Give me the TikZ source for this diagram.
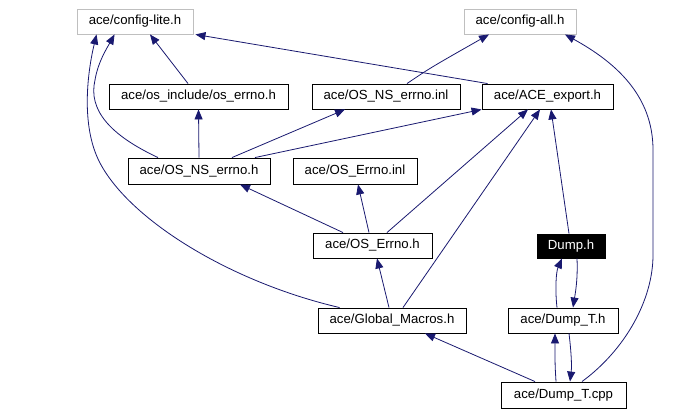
\documentclass[tikz,border=0pt]{standalone}
\usepackage{fontspec}
\setmainfont{Liberation Sans}
\usetikzlibrary{arrows.meta,calc}
\definecolor{edgec}{HTML}{191970}
\definecolor{grayb}{HTML}{BFBFBF}
\tikzset{
  box/.style={draw=black, line width=0.9pt, fill=white, inner sep=0pt, minimum height=25pt,
    font=\fontsize{13.2}{15}\selectfont, text=black},
  graybox/.style={box, draw=grayb},
  blackbox/.style={box, fill=black, text=white},
  dep/.style={draw=edgec, line width=0.8pt, -{Triangle[length=10pt,width=8pt]}},
}
\begin{document}
\begin{tikzpicture}[x=1pt,y=-1pt]
\useasboundingbox[fill=white] (0,0) rectangle (675,415);
% nodes
\node[graybox, minimum width=116pt] (cl) at (135,21.5) {ace/config-lite.h};
\node[graybox, minimum width=112pt] (ca) at (520,21.5) {ace/config-all.h};
\node[box, minimum width=179pt] (oe) at (198.5,96.5) {ace/os\_include/os\_errno.h};
\node[box, minimum width=148pt] (nsinl) at (386,96.5) {ace/OS\_NS\_errno.inl};
\node[box, minimum width=131pt] (ae) at (547.5,96.5) {ace/ACE\_export.h};
\node[box, minimum width=142pt, minimum height=26pt] (nsh) at (199,171) {ace/OS\_NS\_errno.h};
\node[box, minimum width=124pt, minimum height=26pt] (einl) at (355,171) {ace/OS\_Errno.inl};
\node[box, minimum width=119pt] (eh) at (372.5,245.5) {ace/OS\_Errno.h};
\node[blackbox, minimum width=68pt, minimum height=24pt] (dump) at (571,246) {Dump.h};
\node[box, minimum width=148pt] (gm) at (392,320.5) {ace/Global\_Macros.h};
\node[box, minimum width=110pt] (dth) at (563,320.5) {ace/Dump\_T.h};
\node[box, minimum width=125pt, minimum height=26pt] (dtc) at (563.5,395) {ace/Dump\_T.cpp};
% edges
\draw[dep] ([xshift=-10.5pt]oe.north) -- ([xshift=15pt]cl.south);
\draw[dep] ([xshift=6pt]ae.north west) -- ([xshift=2pt]cl.south east);
\draw[dep] ([xshift=21pt]nsinl.north) .. controls (430,68) .. ([xshift=-31pt]ca.south);
\draw[dep] ([xshift=18.5pt]dtc.north) .. controls (625,350) and (653,300) .. (653,255)
   -- (653,150) .. controls (653,95) and (615,62) .. ([xshift=45pt]ca.south);
\draw[dep] ([xshift=-41pt]nsh.north) .. controls (110,135) and (88,110) .. (95,80)
   .. controls (98,62) and (107,48) .. ([xshift=38pt]cl.south west);
\draw[dep] ([xshift=22pt]gm.north west) .. controls (230,282) and (130,220) .. (100,163)
   .. controls (80,125) and (88,70) .. ([xshift=20pt]cl.south west);
\draw[dep] (nsh.north) -- (oe.south);
\draw[dep] ([xshift=33pt]nsh.north) -- ([xshift=-41pt]nsinl.south);
\draw[dep] ([xshift=56pt]nsh.north) -- (ae.south west);
\draw[dep] ([xshift=-29.5pt]eh.north) -- ([xshift=41pt]nsh.south);
\draw[dep] ([xshift=-3.5pt]eh.north) -- ([xshift=3pt]einl.south);
\draw[dep] ([xshift=14.5pt]eh.north) -- ([xshift=-19.5pt]ae.south);
\draw[dep] ([xshift=11pt]gm.north) -- ([xshift=-7.5pt]ae.south);
\draw[dep] ([xshift=-2pt]dump.north) -- ([xshift=3.5pt]ae.south);
\draw[dep] ([xshift=-3pt]gm.north) -- ([xshift=4.5pt]eh.south);
\draw[dep] ([xshift=-6pt]dth.north) .. controls (555,290) and (556,272) .. ([xshift=-9pt]dump.south);
\draw[dep] ([xshift=6pt]dump.south) .. controls (578,280) and (575,295) .. ([xshift=10pt]dth.north);
\draw[dep] ([xshift=-7.5pt]dtc.north) .. controls (555,365) .. ([xshift=-8pt]dth.south);
\draw[dep] ([xshift=6pt]dth.south) .. controls (571,350) and (572,365) .. ([xshift=6.5pt]dtc.north);
\draw[dep] ([xshift=-28.5pt]dtc.north) -- ([xshift=33pt]gm.south);
\end{tikzpicture}
\end{document}
